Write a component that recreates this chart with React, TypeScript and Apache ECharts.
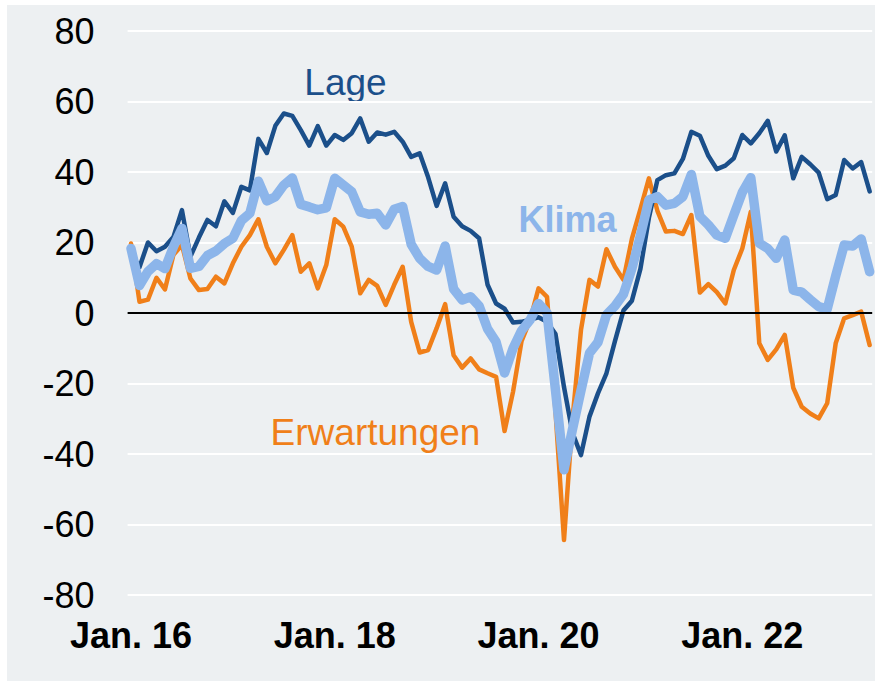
import React, { useEffect, useRef } from "react";
import * as echarts from "echarts";

// Monthly values, Jan 2016 – Apr 2023
const lage = [
  17, 13, 20, 17.5, 18.8, 21.6, 29.2, 16, 21.4, 26.4, 24.6, 31.7,
  28.4, 35.8, 34.8, 49.4, 45.4, 53.1, 56.6, 55.9, 51.9, 47.5, 53, 47.5,
  50.5, 49.1, 51, 55.2, 48.6, 51.2, 50.6, 51.4, 48.6, 44.3, 45.3, 38.5,
  30.4, 36.8, 27.3, 24.6, 23.3, 21.2, 8, 2.7, 1.2, -2.7, -2.5, -1.9,
  -1.2, -2.5, -6, -21, -34, -40.3, -29.4, -22.8, -17.1, -8, 0.7, 3.5,
  12.5, 27, 37.7, 39.1, 39.6, 43.7, 51.4, 50.3, 44.6, 40.8, 41.8, 43.9,
  50.5, 48.1, 51, 54.5, 45.8, 50.4, 38.2, 44.3, 42.2, 39.8, 32.3, 33.5,
  43.4, 41, 42.8, 34.5,
];
const klima = [
  18.3, 7.8, 11.8, 14, 12.6, 18.8, 24, 12.7, 13.2, 16.3, 17.6, 19.7,
  21.2, 26.2, 28.3, 37.4, 31.8, 33, 36.3, 38.3, 30.8, 30.1, 29.3, 29.8,
  38.2, 36.3, 34.4, 28.7, 28, 28.3, 25, 29.4, 30.2, 19.5, 15.5, 13.2,
  12.2, 19, 6.8, 3.7, 4.6, 2, -4.5, -8.2, -17, -10, -5, -2,
  2.7, 0, -22, -44.5, -33, -22, -11.4, -8.3, -0.5, 2, 5.3, 12.6,
  22, 32.1, 33, 30.6, 31.1, 33, 39.3, 27.4, 25, 22.1, 21.2, 27.8,
  34.2, 38.4, 19.8, 18.3, 15.5, 20.7, 6.5, 5.9, 3.8, 1.8, 1.1, 10.5,
  19.3, 19, 21, 11.7,
];
const erwartungen = [
  19.7, 3.2, 3.8, 10, 6.7, 16.5, 19.3, 9.8, 6.5, 6.8, 10.3, 8.4,
  14.1, 18.8, 22.1, 26.6, 18.8, 14.1, 17.9, 22.1, 11.7, 14.1, 7, 13.6,
  26.6, 24.5, 18.8, 5.6, 9.4, 7.7, 2.3, 8, 13.1, -2.5, -11.2, -10.5,
  -4.3, 2.5, -12, -15.5, -12.9, -16, -17.1, -18.1, -33.5, -22.3, -8, -2,
  7, 4.6, -28, -64.4, -30, -4.8, 9.4, 7.5, 18.1, 13.1, 9.4, 21.1,
  29.5, 38.2, 29, 23.1, 23.3, 22.4, 27.8, 5.8, 8.2, 5.9, 2.7, 12.2,
  18.3, 28.7, -8.6, -13.3, -10.3, -6.2, -21.2, -26.6, -28.5, -29.9, -25.6, -8.6,
  -1.5, -0.6, 0.4, -9.1,
];
const tickIndex = [0, 24, 48, 72];
const tickLabels = ["Jan. 16", "Jan. 18", "Jan. 20", "Jan. 22"];
const seriesNames = ["Lage", "Klima", "Erwartungen"];

const C_LAGE = "#1b4f8a";
const C_KLIMA = "#8cb5ea";
const C_ERW = "#f07f19";

const toPairs = (arr: number[]) => arr.map((v, i) => [i, v]);

export default function App() {
  const ref = useRef<HTMLDivElement>(null);
  useEffect(() => {
    if (!ref.current) return;
    const chart = echarts.init(ref.current, null, { renderer: "svg" });
    const font = "'Liberation Sans', Arial, sans-serif";
    chart.setOption({
      animation: false,
      backgroundColor: "transparent",
      grid: {
        left: 127.6,
        right: 2.8,
        top: 31,
        bottom: 86,
        outerBoundsMode: "none",
        containLabel: false,
      },
      xAxis: {
        type: "value",
        min: -0.4,
        max: 87.3,
        axisLine: { show: false },
        axisTick: { show: false },
        splitLine: { show: false },
        axisLabel: {
          customValues: tickIndex,
          formatter: (v: number) => tickLabels[tickIndex.indexOf(Math.round(v))] ?? "",
          fontFamily: font,
          fontSize: 36,
          fontWeight: "bold",
          color: "#000",
          margin: 22,
        },
      },
      yAxis: {
        type: "value",
        min: -80,
        max: 80,
        interval: 20,
        axisLine: { show: false },
        axisTick: { show: false },
        splitLine: { show: true, lineStyle: { color: "#ffffff", width: 2 } },
        axisLabel: {
          fontFamily: font,
          fontSize: 36,
          color: "#000",
          margin: 33,
        },
      },
      graphic: [
        {
          type: "text",
          x: 345.5,
          y: 82.5,
          style: {
            text: seriesNames[0],
            fill: C_LAGE,
            font: `37px ${font}`,
            textAlign: "center",
            textVerticalAlign: "middle",
          },
        },
        {
          type: "text",
          x: 567.5,
          y: 219,
          style: {
            text: seriesNames[1],
            fill: C_KLIMA,
            font: `bold 36px ${font}`,
            textAlign: "center",
            textVerticalAlign: "middle",
          },
        },
        {
          type: "text",
          x: 375.5,
          y: 432.5,
          style: {
            text: seriesNames[2],
            fill: C_ERW,
            font: `37px ${font}`,
            textAlign: "center",
            textVerticalAlign: "middle",
          },
        },
      ],
      series: [
        {
          name: seriesNames[2],
          type: "line",
          data: toPairs(erwartungen),
          showSymbol: false,
          z: 2,
          lineStyle: { color: C_ERW, width: 4.5, join: "round", cap: "round" },
          markLine: {
            silent: true,
            symbol: ["none", "none"],
            label: { show: false },
            lineStyle: { color: "#000", width: 2, type: "solid" },
            data: [{ yAxis: 0 }],
          },
        },
        {
          name: seriesNames[0],
          type: "line",
          data: toPairs(lage),
          showSymbol: false,
          z: 3,
          lineStyle: { color: C_LAGE, width: 4.5, join: "round", cap: "round" },
        },
        {
          name: seriesNames[1],
          type: "line",
          data: toPairs(klima),
          showSymbol: false,
          z: 4,
          lineStyle: { color: C_KLIMA, width: 9.5, join: "round", cap: "round" },
        },
      ],
    });
    return () => chart.dispose();
  }, []);

  return (
    <div style={{ position: "absolute", left: 0, top: 0, width: 875, height: 681, background: "#ffffff", overflow: "hidden" }}>
      <div style={{ position: "absolute", left: 7, top: 5, width: 868, height: 676, background: "#edf0f2" }} />
      <div ref={ref} style={{ position: "absolute", left: 0, top: 0, width: 875, height: 681 }} />
    </div>
  );
}
